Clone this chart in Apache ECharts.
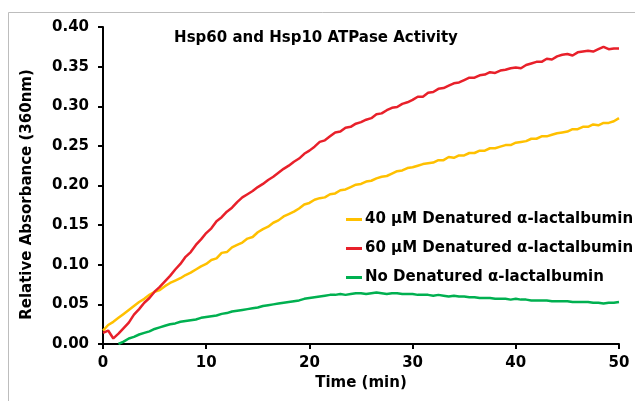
<!DOCTYPE html>
<html>
<head>
<meta charset="utf-8">
<script src="https://cdn.jsdelivr.net/npm/echarts@6/dist/echarts.min.js"></script>
<style>html,body{margin:0;padding:0;background:#fff}#c{width:635px;height:401px}</style>
</head>
<body>
<div id="c"></div>
<script>
var titleText = 'Hsp60 and Hsp10 ATPase Activity';
var xName = 'Time (min)';
var yName = 'Relative Absorbance (360nm)';
var seriesNames = ['40 µM Denatured α-lactalbumin', '60 µM Denatured α-lactalbumin', 'No Denatured α-lactalbumin'];

var time = [0,0.5,1,1.5,2,2.5,3,3.5,4,4.5,5,5.5,6,6.5,7,7.5,8,8.5,9,9.5,
10,10.5,11,11.5,12,12.5,13,13.5,14,14.5,15,15.5,16,16.5,17,17.5,18,18.5,19,19.5,
20,20.5,21,21.5,22,22.5,23,23.5,24,24.5,25,25.5,26,26.5,27,27.5,28,28.5,29,29.5,
30,30.5,31,31.5,32,32.5,33,33.5,34,34.5,35,35.5,36,36.5,37,37.5,38,38.5,39,39.5,
40,40.5,41,41.5,42,42.5,43,43.5,44,44.5,45,45.5,46,46.5,47,47.5,48,48.5,49,49.5,50];

var red60 = [0.014,0.017,0.007,0.013,0.020,0.027,0.037,0.044,0.052,0.058,
0.066,0.072,0.079,0.086,0.094,0.101,0.110,0.116,0.125,0.132,
0.140,0.146,0.155,0.160,0.167,0.172,0.179,0.185,0.189,0.193,
0.198,0.202,0.207,0.211,0.216,0.221,0.225,0.230,0.234,0.240,
0.244,0.249,0.255,0.257,0.262,0.267,0.268,0.273,0.274,0.278,
0.280,0.283,0.285,0.290,0.291,0.295,0.298,0.299,0.303,0.305,
0.308,0.312,0.312,0.317,0.318,0.322,0.323,0.326,0.329,0.330,
0.333,0.336,0.336,0.339,0.340,0.343,0.342,0.345,0.346,0.348,
0.349,0.348,0.352,0.354,0.356,0.356,0.360,0.359,0.363,0.365,
0.366,0.364,0.368,0.369,0.370,0.369,0.372,0.375,0.372,0.373,0.373];

var yellow40 = [0.017,0.024,0.028,0.033,0.038,0.043,0.048,0.053,0.057,0.062,
0.066,0.068,0.073,0.077,0.080,0.083,0.087,0.090,0.094,0.098,
0.101,0.106,0.108,0.115,0.116,0.122,0.125,0.128,0.133,0.135,
0.141,0.145,0.148,0.153,0.156,0.161,0.164,0.167,0.171,0.176,
0.178,0.182,0.184,0.185,0.189,0.190,0.194,0.195,0.198,0.201,
0.202,0.205,0.206,0.209,0.211,0.212,0.215,0.218,0.219,0.222,
0.223,0.225,0.227,0.228,0.229,0.232,0.232,0.236,0.235,0.238,
0.238,0.241,0.241,0.244,0.244,0.247,0.247,0.249,0.251,0.251,
0.254,0.255,0.256,0.259,0.259,0.262,0.262,0.264,0.266,0.267,
0.268,0.271,0.271,0.274,0.274,0.277,0.276,0.279,0.279,0.281,0.285];

var green0 = [null,null,null,0.000,0.003,0.007,0.009,0.012,0.014,0.016,
0.019,0.021,0.023,0.025,0.026,0.028,0.029,0.030,0.031,0.033,
0.034,0.035,0.036,0.038,0.039,0.041,0.042,0.043,0.044,0.045,
0.046,0.048,0.049,0.050,0.051,0.052,0.053,0.054,0.055,0.057,
0.058,0.059,0.060,0.061,0.062,0.062,0.063,0.062,0.063,0.064,
0.064,0.063,0.064,0.065,0.064,0.063,0.064,0.064,0.063,0.063,
0.063,0.062,0.062,0.062,0.061,0.062,0.061,0.060,0.061,0.060,
0.060,0.059,0.059,0.058,0.058,0.058,0.057,0.057,0.057,0.056,
0.057,0.056,0.056,0.055,0.055,0.055,0.055,0.054,0.054,0.054,
0.054,0.053,0.053,0.053,0.053,0.052,0.052,0.051,0.052,0.052,0.053];

var colors = ['#FFC000', '#E8202A', '#00B050'];
var seriesValues = [yellow40, red60, green0];

function pairs(vals) {
  return time.map(function (t, i) { return [t, vals[i]]; });
}

var font = 'DejaVu Sans';
var chart = echarts.init(document.getElementById('c'), null, {renderer: 'canvas'});
chart.setOption({
  animation: false,
  backgroundColor: '#fff',
  title: {
    text: titleText,
    left: 311, top: 26, textAlign: 'center',
    textStyle: {fontFamily: font, fontWeight: 'bold', fontSize: 15, color: '#000'}
  },
  graphic: [{
    type: 'rect', silent: true, z: -1,
    shape: {x: 8.5, y: 12.5, width: 800, height: 600},
    style: {fill: 'none', stroke: '#bdbdbd', lineWidth: 1}
  }],
  legend: {
    orient: 'vertical', left: 341, top: 207, itemGap: 14,
    itemWidth: 16, itemHeight: 3, icon: 'rect',
    textStyle: {fontFamily: font, fontWeight: 'bold', fontSize: 15, color: '#000', padding: [0, 0, 0, -2]},
    data: seriesNames
  },
  grid: {left: 103, right: 16, top: 27, bottom: 57, containLabel: false},
  xAxis: {
    type: 'value', min: 0, max: 50, interval: 10,
    name: xName, nameLocation: 'middle', nameGap: 30,
    nameTextStyle: {fontFamily: font, fontWeight: 'bold', fontSize: 15, color: '#000'},
    axisLine: {show: true, onZero: false, lineStyle: {color: '#000', width: 2}},
    axisTick: {show: true, length: 5, lineStyle: {color: '#000', width: 2}},
    axisLabel: {fontFamily: font, fontWeight: 'bold', fontSize: 15, color: '#000', margin: 12},
    splitLine: {show: false}
  },
  yAxis: {
    type: 'value', min: 0, max: 0.4, interval: 0.05,
    name: yName, nameLocation: 'middle', nameGap: 68, nameRotate: 90,
    nameTextStyle: {fontFamily: font, fontWeight: 'bold', fontSize: 15, color: '#000', padding: [0, 18, 0, 0]},
    axisLine: {show: true, lineStyle: {color: '#000', width: 2}},
    axisTick: {show: true, length: 5, lineStyle: {color: '#000', width: 2}},
    axisLabel: {fontFamily: font, fontWeight: 'bold', fontSize: 15, color: '#000', margin: 14,
      formatter: function (v) { return v.toFixed(2); }},
    splitLine: {show: false}
  },
  series: seriesNames.map(function (n, i) {
    return {
      name: n, type: 'line', data: pairs(seriesValues[i]),
      showSymbol: false, symbol: 'none', connectNulls: false,
      lineStyle: {color: colors[i], width: 2.5},
      itemStyle: {color: colors[i]},
      z: i === 2 ? 3 : (i === 1 ? 2 : 1)
    };
  })
});
</script>
</body>
</html>
